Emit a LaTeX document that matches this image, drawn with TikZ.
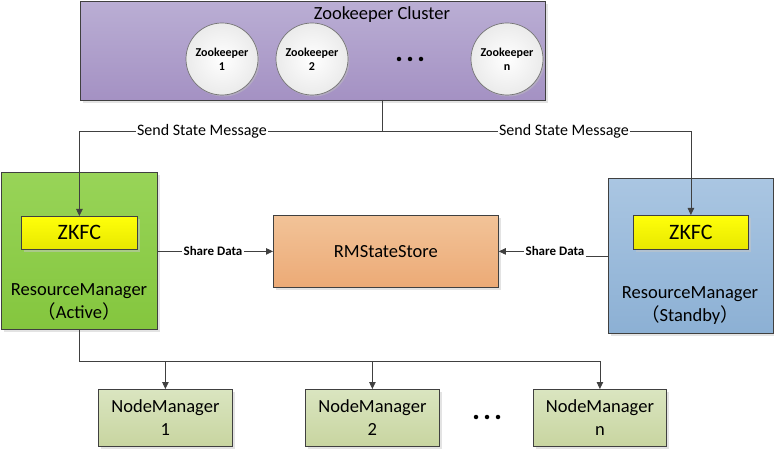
\documentclass[tikz,border=0pt]{standalone}
\usepackage{fontspec}
\setmainfont{Carlito}
\newfontfamily\cjk{Noto Sans CJK SC}
\usetikzlibrary{shadows,arrows.meta}
\definecolor{ln}{HTML}{404040}
\definecolor{clTop}{RGB}{186,174,212}
\definecolor{clBot}{RGB}{164,145,195}
\definecolor{grTop}{RGB}{152,212,88}
\definecolor{grBot}{RGB}{132,198,62}
\definecolor{blTop}{RGB}{170,198,226}
\definecolor{blBot}{RGB}{140,176,212}
\definecolor{orTop}{RGB}{242,195,152}
\definecolor{orBot}{RGB}{236,170,118}
\definecolor{ylTop}{RGB}{255,255,10}
\definecolor{ylBot}{RGB}{232,232,0}
\definecolor{nmTop}{RGB}{218,229,192}
\definecolor{nmBot}{RGB}{200,213,160}
\begin{document}
\begin{tikzpicture}[x=1pt,y=-1pt,
  line/.style={draw=ln, line width=0.8pt},
  arr/.style={line, -{Triangle[length=7pt,width=6.5pt]}},
  box/.style={draw=ln, line width=0.8pt, rectangle, inner sep=0pt, anchor=north west,
     drop shadow={shadow xshift=2.5pt,shadow yshift=-2.5pt,fill=black!22}},
  zk/.style={circle, draw=black!55, line width=0.7pt, minimum size=72pt, inner sep=0pt,
     inner color=white, outer color=black!8, align=center,
     font=\bfseries\fontsize{12}{14}\selectfont,
     drop shadow={shadow xshift=1.5pt,shadow yshift=-1.5pt,fill=black!25}},
  big/.style={font=\fontsize{18.5}{23}\selectfont, align=center, inner sep=0pt},
  lbl/.style={fill=white, inner sep=1pt, font=\fontsize{16}{18}\selectfont},
  sd/.style={fill=white, inner sep=1.5pt, font=\bfseries\fontsize{13}{15}\selectfont},
  nm/.style={box, minimum height=57pt, top color=nmTop, bottom color=nmBot, align=center,
     font=\fontsize{18.5}{23}\selectfont},
  zkfc/.style={box, minimum height=33pt, top color=ylTop, bottom color=ylBot,
     font=\fontsize{22}{24}\selectfont},
  dot/.style={fill=black, circle, inner sep=0pt, minimum size=4.5pt}
]
\useasboundingbox (0,0) rectangle (774,449);

% Zookeeper cluster
\node[box, minimum width=465pt, minimum height=99pt, top color=clTop, bottom color=clBot] (cluster) at (80,1) {};
\node[big] (title) at (382,15) {Zookeeper Cluster};
\node[zk] (zk1) at (222,59) {Zookeeper\\1};
\node[zk] (zk2) at (312,59) {Zookeeper\\2};
\node[zk] (zkn) at (507,59) {Zookeeper\\n};
\node[dot] (d1) at (399,59) {};
\node[dot] (d2) at (410,59) {};
\node[dot] (d3) at (421,59) {};

% Resource managers
\node[box, minimum width=156pt, minimum height=157pt, top color=grTop, bottom color=grBot] (rm1) at (1,172) {};
\node[zkfc, minimum width=116pt] (zkfc1) at (21,216) {ZKFC};
\node[big] (rm1t) at (79,302) {ResourceManager\\{\cjk （}Active{\cjk ）}};

\node[box, minimum width=165pt, minimum height=155pt, top color=blTop, bottom color=blBot] (rm2) at (608,178) {};
\node[zkfc, minimum width=115pt, minimum height=34pt] (zkfc2) at (633,215) {ZKFC};
\node[big] (rm2t) at (690,306) {ResourceManager\\{\cjk （}Standby{\cjk ）}};

% State store
\node[box, minimum width=225pt, minimum height=72pt, top color=orTop, bottom color=orBot,
      font=\fontsize{18.5}{20}\selectfont] (rms) at (273,215) {RMStateStore};

% Node managers
\node[nm, minimum width=134pt] (nm1) at (98,389) {NodeManager\\1};
\node[nm, minimum width=134pt] (nm2) at (305,389) {NodeManager\\2};
\node[nm, minimum width=133pt] (nm3) at (533,389) {NodeManager\\n};
\node[dot] (e1) at (476,417) {};
\node[dot] (e2) at (487,417) {};
\node[dot] (e3) at (498,417) {};

% Send state message connectors
\coordinate (tap) at (382,100);
\coordinate (j) at (382,131);
\draw[line] (tap) -- (j);
\draw[arr] (j) -| (zkfc1.north);
\draw[arr] (j) -| (zkfc2.north);
\node[lbl] (ssm1) at (202,131) {Send State Message};
\node[lbl] (ssm2) at (564,131) {Send State Message};

% Share data connectors
\draw[arr] (rm1.east |- rms.west) -- (rms.west);
\node[sd] (sd1) at (213,251) {Share Data};
\coordinate (b) at (572,256);
\draw[arr] (rm2.west |- b) -- (b) |- (rms.east);
\node[sd] (sd2) at (555,251) {Share Data};

% Node manager bus
\coordinate (bus) at (0,361);
\draw[arr] (rm1.south) -- (rm1.south |- bus) -| (nm3.north);
\draw[arr] (nm1.north |- bus) -- (nm1.north);
\draw[arr] (nm2.north |- bus) -- (nm2.north);
\end{tikzpicture}
\end{document}
